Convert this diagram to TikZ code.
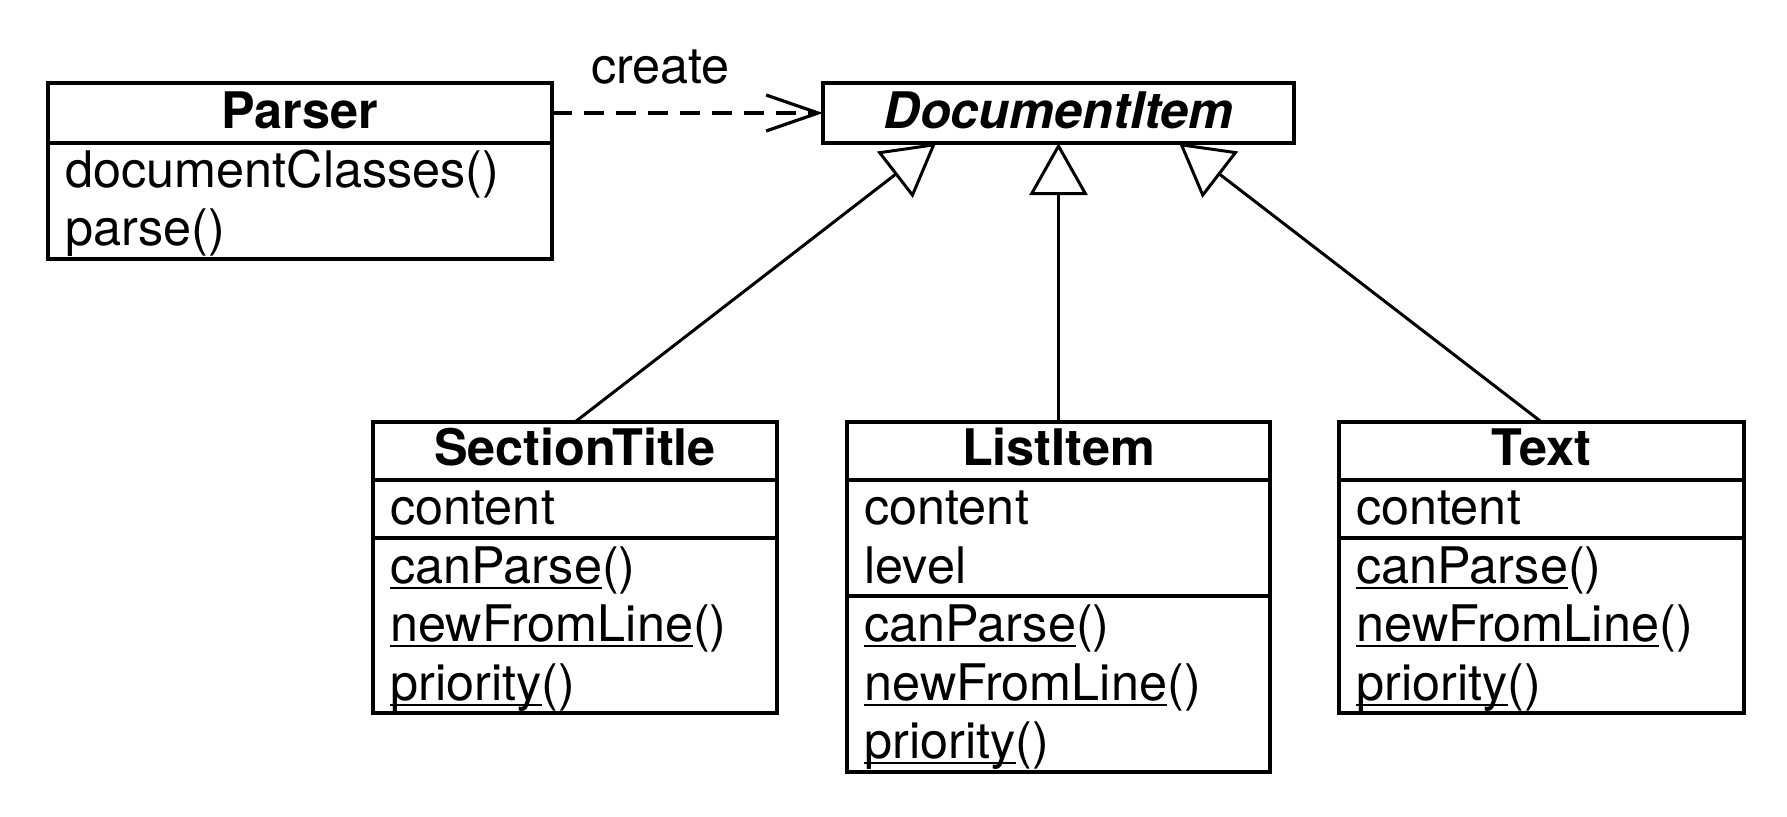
\documentclass[tikz,border=0pt]{standalone}
\usepackage{fontspec}
\setmainfont{TeX Gyre Heros}
\usetikzlibrary{arrows.meta,fit,calc}
\newcommand\umlul[1]{\setbox0=\hbox{#1}\rlap{\rule[-2.8pt]{\wd0}{0.9pt}}\box0}
\begin{document}
\begin{tikzpicture}[x=0.5pt,y=-0.5pt,
  comp/.style={draw,line width=1.8pt,inner sep=0pt,outer sep=0pt,fit={#1}},
  lbl/.style={inner sep=0pt,anchor=base west,font=\fontsize{25.2pt}{30pt}\selectfont},
  ttl/.style={inner sep=0pt,anchor=base,font=\fontsize{25.2pt}{30pt}\selectfont\bfseries},
  gen/.style={line width=1.5pt,-{Triangle[open,fill=white,length=26pt,width=29pt]}},
  dep/.style={line width=1.6pt,dash pattern=on 10pt off 6pt,-{Straight Barb[length=26pt,width=18pt]}}
]
\useasboundingbox (0,0) rectangle (1787,816);

% Parser
\node[comp={(48,83) (552,143)}] (pH) {};
\node[comp={(48,143) (552,259)}] (pM) {};
\node[ttl] (pT) at (300,128) {Parser};
\node[lbl] (p1) at (65,187) {documentClasses()};
\node[lbl] (p2) at (65,245) {parse()};

% DocumentItem
\node[comp={(823,83) (1294,143)}] (doc) {};
\node[ttl] (docT) at (1058.5,128) {\textit{DocumentItem}};

% SectionTitle
\node[comp={(373,422) (777,480)}] (sH) {};
\node[comp={(373,480) (777,538)}] (sA) {};
\node[comp={(373,538) (777,713)}] (sM) {};
\node[ttl] (sT) at (575,465) {SectionTitle};
\node[lbl] (s1) at (390,524) {content};
\node[lbl] (s2) at (390,583) {\umlul{canParse}()};
\node[lbl] (s3) at (390,641) {\umlul{newFromLine}()};
\node[lbl] (s4) at (390,700) {\umlul{priority}()};

% ListItem
\node[comp={(847,422) (1270,480)}] (lH) {};
\node[comp={(847,480) (1270,596)}] (lA) {};
\node[comp={(847,596) (1270,772)}] (lM) {};
\node[ttl] (lT) at (1058.5,465) {ListItem};
\node[lbl] (l1) at (864,524) {content};
\node[lbl] (l2) at (864,583) {level};
\node[lbl] (l3) at (864,641) {\umlul{canParse}()};
\node[lbl] (l4) at (864,700) {\umlul{newFromLine}()};
\node[lbl] (l5) at (864,758) {\umlul{priority}()};

% Text
\node[comp={(1339,422) (1744,480)}] (tH) {};
\node[comp={(1339,480) (1744,538)}] (tA) {};
\node[comp={(1339,538) (1744,713)}] (tM) {};
\node[ttl] (tT) at (1541.5,465) {Text};
\node[lbl] (t1) at (1356,524) {content};
\node[lbl] (t2) at (1356,583) {\umlul{canParse}()};
\node[lbl] (t3) at (1356,641) {\umlul{newFromLine}()};
\node[lbl] (t4) at (1356,700) {\umlul{priority}()};

% connectors
\draw[dep] (pH.east) -- node[pos=0.4,anchor=base,yshift=15pt,inner sep=0pt,font=\fontsize{25.2pt}{30pt}\selectfont] (create) {create} (doc.west);
\draw[gen] (sH.north) -- ($(doc.south west)!0.24!(doc.south east)$);
\draw[gen] (lH.north) -- (doc.south);
\draw[gen] (tH.north) -- ($(doc.south west)!0.756!(doc.south east)$);
\end{tikzpicture}
\end{document}
